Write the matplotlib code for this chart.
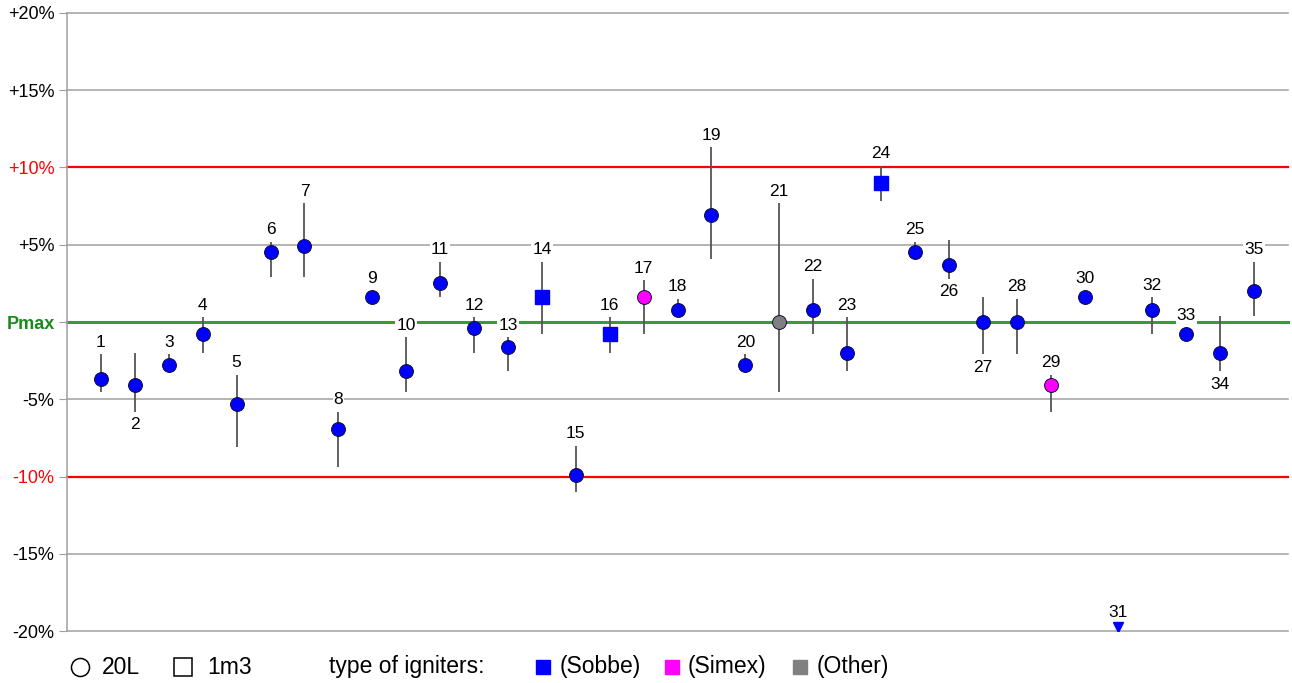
import numpy as np
import matplotlib.pyplot as plt
from matplotlib.lines import Line2D

plt.rcParams['font.family'] = ['Liberation Sans', 'DejaVu Sans']

# deviation from Pmax in %, per lab
ids = list(range(1, 36))
dev = [-3.7, -4.1, -2.8, -0.8, -5.3, 4.5, 4.9, -6.9, 1.6, -3.2,
       2.5, -0.4, -1.6, 1.6, -9.9, -0.8, 1.6, 0.8, 6.9, -2.8,
       0.0, 0.8, -2.0, 9.0, 4.5, 3.7, 0.0, 0.0, -4.1, 1.6,
       np.nan, 0.8, -0.8, -2.0, 2.0]
err_hi = [-2.1, -2.0, -2.1, 0.3, -3.4, 5.2, 7.7, -5.8, np.nan, -1.0,
          3.9, 0.3, -1.0, 3.9, -8.0, 0.3, 2.7, 1.5, 11.3, -2.1,
          7.7, 2.8, 0.3, 10.1, 5.2, 5.3, 1.6, 1.5, -3.4, np.nan,
          np.nan, 1.6, np.nan, 0.4, 3.9]
err_lo = [-4.5, -5.8, np.nan, -2.0, -8.1, 2.9, 2.9, -9.4, np.nan, -4.5,
          1.6, -2.0, -3.2, -0.8, -11.0, -2.0, -0.8, np.nan, 4.1, np.nan,
          -4.5, -0.8, -3.2, 7.8, np.nan, 2.8, -2.1, -2.1, -5.8, np.nan,
          np.nan, -0.8, np.nan, -3.2, 0.4]
vessel = ['20L'] * 35
for i in (14, 16, 24):
    vessel[i - 1] = '1m3'
igniter = ['Sobbe'] * 35
igniter[17 - 1] = 'Simex'
igniter[29 - 1] = 'Simex'
igniter[21 - 1] = 'Other'
label_below = [2, 26, 27, 34]
off_scale = [31]

ign_colors = {'Sobbe': '#0000ff', 'Simex': '#ff00ff', 'Other': '#808080'}
yticks = [20, 15, 10, 5, 0, -5, -10, -15, -20]
ylabels = ['+20%', '+15%', '+10%', '+5%', 'Pmax', '-5%', '-10%', '-15%', '-20%']

fig = plt.figure(figsize=(12.92, 6.83), dpi=100)
ax = fig.add_axes([0.0519, 0.0761, 0.9450, 0.9049])
ax.set_xlim(0, 36)
ax.set_ylim(-20, 20)

for t in yticks:
    if t == 0:
        c, lw = '#3a9a3a', 2.2
    elif abs(t) == 10:
        c, lw = '#ff0000', 1.6
    else:
        c, lw = '#a0a0a0', 1.1
    ax.axhline(t, color=c, lw=lw, zorder=1, clip_on=False)

ax.set_yticks(yticks)
ax.set_yticklabels(ylabels, fontsize=13)
for lab, t in zip(ax.get_yticklabels(), yticks):
    if t == 0:
        lab.set_color('#1a8a1a')
        lab.set_fontweight('bold')
    elif abs(t) == 10:
        lab.set_color('#ff0000')
ax.tick_params(axis='y', length=6, color='#a0a0a0', pad=3)
ax.set_xticks([])
for s in ['top', 'right', 'bottom']:
    ax.spines[s].set_visible(False)
ax.spines['left'].set_color('#a0a0a0')
ax.spines['left'].set_linewidth(1.1)

lbl = dict(ha='center', va='center', fontsize=12.5, zorder=6,
           bbox=dict(fc='white', ec='none', pad=0.8))

for i, v, hi, lo, ves, ign in zip(ids, dev, err_hi, err_lo, vessel, igniter):
    if i in off_scale:
        ax.plot(i, -20 + 0.28, marker='v', ms=7, color='#0000ff', mec='#0000ff',
                ls='none', zorder=5)
        ax.annotate(str(i), xy=(i, -20 + 0.28), xytext=(0, 10),
                    textcoords='offset points', **lbl)
        continue
    top = hi if not np.isnan(hi) else v
    bot = lo if not np.isnan(lo) else v
    ax.vlines(i, bot, top, color='#555555', lw=1.3, zorder=3)
    if ves == '20L':
        ax.plot(i, v, marker='o', ms=10, color=ign_colors[ign], mec='#101030',
                mew=0.7, ls='none', zorder=5)
    else:
        ax.plot(i, v, marker='s', ms=10, color=ign_colors[ign], mec=ign_colors[ign],
                ls='none', zorder=5)
    if i in label_below:
        ax.annotate(str(i), xy=(i, bot), xytext=(0, -9.5),
                    textcoords='offset points', **lbl)
    else:
        off = 8.6 if not np.isnan(hi) else 13.7
        ax.annotate(str(i), xy=(i, top), xytext=(0, off),
                    textcoords='offset points', **lbl)

# legend row along the bottom
W, H = 1292, 683
ly = 1 - 667 / H


def fx(px):
    return px / W


fig.add_artist(Line2D([fx(80)], [ly], marker='o', ms=13, mfc='white', mec='black',
                      mew=1.1, transform=fig.transFigure))
fig.text(fx(102), ly, '20L', fontsize=16.5, va='center', ha='left')
fig.add_artist(Line2D([fx(183)], [ly], marker='s', ms=13, mfc='white', mec='black',
                      mew=1.1, transform=fig.transFigure))
fig.text(fx(207), ly, '1m3', fontsize=16.5, va='center', ha='left')
fig.text(fx(329), ly, 'type of igniters:', fontsize=16.5, va='center', ha='left')
for cx, tx, ign in [(543, 560, 'Sobbe'), (672, 688, 'Simex'), (800, 817, 'Other')]:
    fig.add_artist(Line2D([fx(cx)], [ly], marker='s', ms=10, color=ign_colors[ign],
                          mec=ign_colors[ign], transform=fig.transFigure))
    fig.text(fx(tx), ly, '(' + ign + ')', fontsize=16.5, va='center', ha='left')

fig.savefig('out.png', dpi=100, facecolor='white')
